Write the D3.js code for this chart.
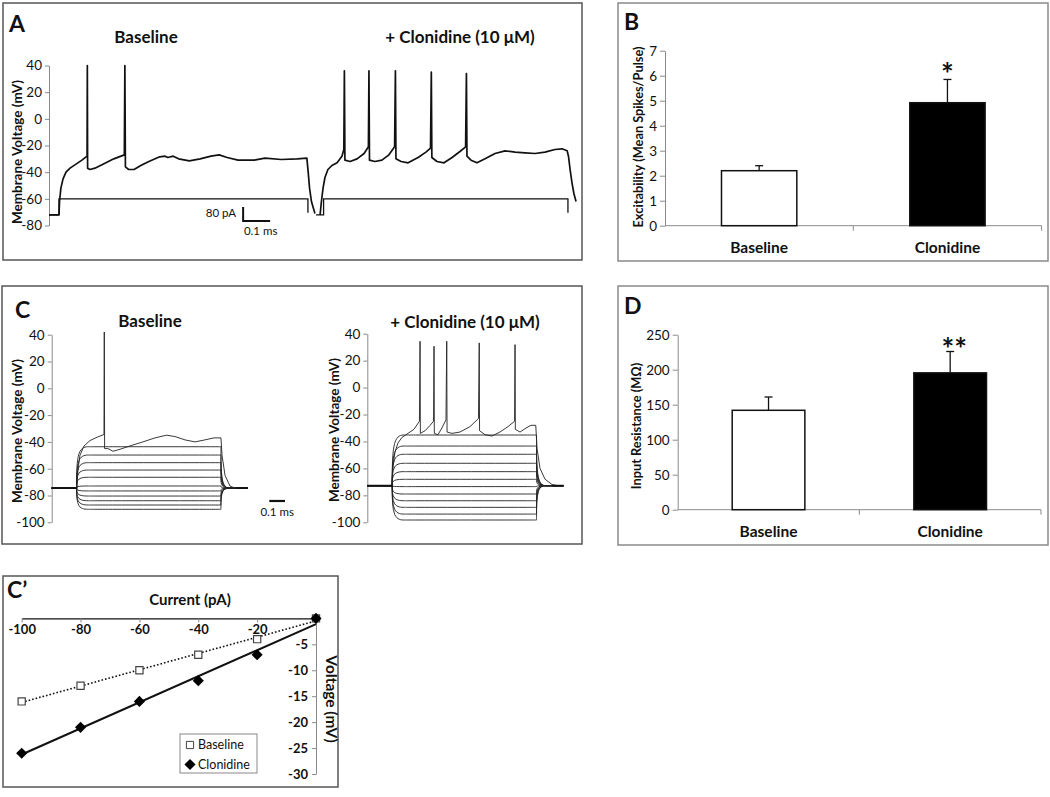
<!DOCTYPE html>
<html><head><meta charset="utf-8">
<script src="https://cdn.jsdelivr.net/npm/d3@7"></script>
<style>
body{margin:0;background:#fff;}
svg text{font-family:Lato,"Open Sans",sans-serif;fill:#111;}
</style></head><body>
<svg id="fig" width="1050" height="797"></svg>
<script>
// ================= DATA =================
// ---- Panel A: current-clamp traces (time in ms, voltage in mV) ----
const aTicks = [40,20,0,-20,-40,-60,-80];
const aBaselineTrace = [
 [0,-72],[0.037,-72],[0.039,-62],[0.044,-52],[0.052,-45],[0.063,-40],[0.078,-37],[0.1,-34],[0.122,-31],[0.141,-28],
 [0.142,40],[0.143,-37],[0.152,-38],[0.17,-37],[0.2,-34],[0.24,-30],[0.279,-27],
 [0.281,40],[0.283,-36],[0.295,-38],[0.315,-38],[0.34,-35],[0.37,-32],[0.41,-28.5],[0.43,-28],[0.44,-29],[0.46,-28],
 [0.48,-30],[0.52,-31.5],[0.56,-30],[0.6,-28],[0.63,-27],[0.66,-29],[0.7,-31],[0.76,-31],[0.8,-29.5],[0.86,-30.5],
 [0.92,-30],[0.955,-29.5],[0.96,-40],[0.965,-52],[0.972,-62],[0.985,-71]
];
const aClonidineTrace = [
 [1.004,-72],[1.009,-62],[1.015,-52],[1.022,-44],[1.033,-38],[1.048,-35],[1.067,-33],[1.085,-28],[1.092,-23],
 [1.094,36],[1.096,-31],[1.115,-32],[1.141,-30],[1.167,-26],[1.183,-21],
 [1.185,36],[1.187,-31],[1.207,-32],[1.233,-31],[1.259,-27],[1.280,-21],
 [1.283,36],[1.285,-30],[1.304,-32],[1.330,-33],[1.367,-29],[1.396,-25],[1.413,-22],
 [1.416,35],[1.418,-29],[1.437,-32],[1.463,-33],[1.493,-29],[1.522,-24.5],[1.543,-21],
 [1.546,34],[1.548,-28],[1.563,-31],[1.585,-33],[1.615,-30],[1.652,-26],[1.689,-24],[1.726,-25],[1.763,-25.5],
 [1.8,-26],[1.837,-25],[1.874,-23],[1.9,-22.5],[1.919,-24],[1.924,-28],[1.93,-38],[1.937,-48],[1.944,-56],[1.952,-62]
];
const aBaselineStep = [[0,-72],[0.037,-72],[0.037,-60],[0.959,-60],[0.959,-70.5]];
const aClonidineStep = [[0.989,-72],[1.017,-72],[1.017,-60],[1.922,-60],[1.922,-70.5]];

// ---- Panel B: excitability ----
const barCategories = ["Baseline","Clonidine"];
const excitabilityMean = [2.2, 4.92];
const excitabilityErr = [0.2, 0.93];
const excitabilityTicks = [0,1,2,3,4,5,6,7];

// ---- Panel C: family of sweeps (steady-state levels, mV) ----
const cTicks = [40,20,0,-20,-40,-60,-80,-100];
const cPulse = [0.159, 1.078];          // step on / off (ms)
const cBaselineRest = -74.5;
const cBaselineLevels = [-90.3,-87.1,-83.9,-80.4,-76.6,-72.9,-66.4,-61,-55.5,-49.8,-43.6];
const cBaselineSpikeTrace = [
 [0,-74.5],[0.159,-74.5],[0.168,-60],[0.18,-50],[0.206,-43],[0.244,-39],[0.289,-36.5],[0.333,-34.5],
 [0.335,42],[0.337,-45],[0.359,-45],[0.39,-47],[0.435,-45.5],[0.499,-43],[0.581,-40],[0.658,-37],[0.731,-35],
 [0.785,-36],[0.849,-38.5],[0.913,-40],[0.976,-38.5],[1.034,-37],[1.078,-37],
 [1.085,-50],[1.104,-65],[1.136,-73],[1.168,-74.5],[1.25,-74.5]
];
const cClonidineRest = -72.8;
const cClonidineLevels = [-98.3,-93.9,-88.9,-84,-79,-73.5,-68.1,-62.4,-56.2,-49.5,-43.4,-35.2];
const cClonidineSpikeTrace = [
 [0,-72.8],[0.155,-72.8],[0.164,-58],[0.176,-48],[0.196,-41],[0.221,-37],[0.259,-34],[0.297,-31],[0.332,-25],
 [0.336,34.4],[0.338,-34],[0.368,-32],[0.4,-28],[0.422,-25],
 [0.425,30.7],[0.427,-34],[0.45,-35],[0.475,-30],[0.501,-24],
 [0.506,34.4],[0.508,-33],[0.539,-34],[0.59,-33],[0.654,-29],[0.708,-23],
 [0.713,33.2],[0.715,-32],[0.75,-35],[0.794,-36],[0.845,-33],[0.896,-29],[0.938,-25],
 [0.941,31.9],[0.943,-31],[0.973,-33],[1.011,-30],[1.043,-28],[1.073,-28],
 [1.081,-45],[1.1,-60],[1.132,-68],[1.177,-72],[1.215,-72.8],[1.25,-72.8]
];

// ---- Panel D: input resistance ----
const resistanceMean = [142, 195.5];
const resistanceErr = [19, 30.5];
const resistanceTicks = [0,50,100,150,200,250];

// ---- Panel C': I-V relation ----
const ivCurrent = [-100,-80,-60,-40,-20,0];
const ivBaseline = [-16,-13,-10,-7,-4,0];
const ivClonidine = [-26,-21,-16,-12,-7,0];
const ivXTicks = [-100,-80,-60,-40,-20];
const ivYTicks = [-5,-10,-15,-20,-25,-30];

// ================= DRAWING =================
const svg = d3.select("#fig");
const AX = "#8a8a8a";
const plain = d => String(d);   // hyphen-minus, integer labels as in the figure

function frame(x0,y0,x1,y1,color){
  svg.append("rect").attr("x",x0).attr("y",y0).attr("width",x1-x0).attr("height",y1-y0)
    .attr("fill","none").attr("stroke",color).attr("stroke-width",1.5);
}
function panelLetter(t,x,y){
  svg.append("text").attr("x",x).attr("y",y).attr("font-size",23).attr("font-weight",700).text(t);
}
function title(t,x,y,size){
  svg.append("text").attr("x",x).attr("y",y).attr("text-anchor","middle")
    .attr("font-size",size||17).attr("font-weight",700).text(t);
}
function vlabel(t,x,y,size,rot){
  svg.append("text").attr("transform",`translate(${x},${y}) rotate(${rot||-90})`)
    .attr("text-anchor","middle").attr("dy","0.35em").attr("font-size",size||13.5)
    .attr("font-weight",700).text(t);
}
function styleAxis(g,fs,bold){
  g.selectAll("path,line").attr("stroke",AX).attr("stroke-width",1);
  g.selectAll("text").attr("font-size",fs).attr("fill","#111")
    .attr("font-family","Lato,'Open Sans',sans-serif").attr("font-weight",bold?700:400);
}

// ---------- Panel A ----------
frame(3,3,582,260,"#555");
panelLetter("A",9,32);
title("Baseline",146,43);
title("+ Clonidine (10 \u03bcM)",460,43);
vlabel("Membrane Voltage (mV)",17,152);
const xA = d3.scaleLinear().domain([0,2]).range([49,589]);
const yA = d3.scaleLinear().domain([40,-80]).range([65.5,225.5]);
const gA = svg.append("g").attr("transform","translate(49,0)")
  .call(d3.axisLeft(yA).tickValues(aTicks).tickFormat(plain).tickSize(4).tickSizeOuter(0).tickPadding(3));
styleAxis(gA,13.5,false);
const lineA = d3.line().x(d=>xA(d[0])).y(d=>yA(d[1]));
[aBaselineStep,aClonidineStep].forEach(s=>svg.append("path").attr("d",lineA(s))
  .attr("fill","none").attr("stroke","#111").attr("stroke-width",1.3));
[aBaselineTrace,aClonidineTrace].forEach(s=>svg.append("path").attr("d",lineA(s))
  .attr("fill","none").attr("stroke","#111").attr("stroke-width",1.7).attr("stroke-linejoin","round"));
// scale bar A (80 pA / 0.1 ms)
{
  const t0=0.719, v0=-76.7, v1=-66.2;
  svg.append("path").attr("d",lineA([[t0,v1],[t0,v0],[t0+0.1,v0]]))
    .attr("fill","none").attr("stroke","#111").attr("stroke-width",2);
  svg.append("text").attr("x",xA(t0)-7).attr("y",yA(v1)+10).attr("text-anchor","end")
    .attr("font-size",11.5).text("80 pA");
  svg.append("text").attr("x",xA(t0+0.065)).attr("y",yA(v0)+14).attr("text-anchor","middle")
    .attr("font-size",11.5).text("0.1 ms");
}

// ---------- Bar panels B & D ----------
function barPanel(o){
  const y = d3.scaleLinear().domain([0,o.max]).range([o.y0,o.y1]);
  const x = d3.scaleBand().domain(barCategories).range([o.x0,o.x1]);
  const g = svg.append("g").attr("transform",`translate(${o.x0},0)`)
    .call(d3.axisLeft(y).tickValues(o.ticks).tickFormat(plain).tickSize(5).tickSizeOuter(0).tickPadding(3));
  styleAxis(g,13.5,false);
  svg.append("line").attr("x1",o.x0).attr("x2",o.x1).attr("y1",o.y0).attr("y2",o.y0).attr("stroke",AX);
  [x(barCategories[1]), o.x1].forEach(b=>svg.append("line").attr("x1",b).attr("x2",b)
     .attr("y1",o.y0).attr("y2",o.y0+5).attr("stroke",AX));
  const bw = x.bandwidth()*0.4;
  barCategories.forEach((c,i)=>{
    const cx = x(c)+x.bandwidth()/2;
    svg.append("line").attr("x1",cx).attr("x2",cx).attr("y1",y(o.mean[i])).attr("y2",y(o.mean[i]+o.err[i]))
      .attr("stroke","#111").attr("stroke-width",1.3);
    svg.append("line").attr("x1",cx-4).attr("x2",cx+4).attr("y1",y(o.mean[i]+o.err[i])).attr("y2",y(o.mean[i]+o.err[i]))
      .attr("stroke","#111").attr("stroke-width",1.3);
    svg.append("rect").attr("x",cx-bw/2).attr("y",y(o.mean[i])).attr("width",bw).attr("height",o.y0-y(o.mean[i]))
      .attr("fill",i===0?"#fff":"#000").attr("stroke","#111").attr("stroke-width",1.5);
    svg.append("text").attr("x",cx).attr("y",o.y0+27).attr("text-anchor","middle")
      .attr("font-size",15.5).attr("font-weight",700).text(c);
  });
  const sx = x(barCategories[1])+x.bandwidth()/2 + (o.starDx||0);
  svg.append("text").attr("x",sx).attr("y",y(o.mean[1]+o.err[1])-o.starGap)
    .attr("text-anchor","middle").attr("font-size",30).attr("font-weight",700).text(o.star);
}
frame(618,3,1048,261,"#8a8a8a");
panelLetter("B",624,30);
barPanel({x0:665,x1:1041.6,y0:225.7,y1:50.7,max:7,ticks:excitabilityTicks,
  mean:excitabilityMean,err:excitabilityErr,star:"*",starGap:-6});
vlabel("Excitability (Mean Spikes/Pulse)",638.5,137,12.8);

frame(618,286,1048,545,"#8a8a8a");
panelLetter("D",624,314);
barPanel({x0:677.7,x1:1041,y0:509.7,y1:334.7,max:250,ticks:resistanceTicks,
  mean:resistanceMean,err:resistanceErr,star:"**",starGap:-8,starDx:4});
vlabel("Input Resistance (M\u03a9)",637,426,12.8);

// ---------- Panel C ----------
frame(2,286,582,544,"#555");
panelLetter("C",15,318);
title("Baseline",150,327);
title("+ Clonidine (10 \u03bcM)",465,328);
function sweepPanel(o){
  const x = d3.scaleLinear().domain([0,1.25]).range([o.xStart,o.xStart+196.25]);
  const y = d3.scaleLinear().domain([40,-100]).range([o.yTop,o.yBot]);
  const g = svg.append("g").attr("transform",`translate(${o.xStart},0)`)
    .call(d3.axisLeft(y).tickValues(cTicks).tickFormat(plain).tickSize(4).tickSizeOuter(0).tickPadding(3));
  styleAxis(g,13.5,false);
  const on=cPulse[0], off=cPulse[1], rest=o.rest;
  const curve = d3.line().x(d=>x(d[0])).y(d=>y(d[1])).curve(d3.curveBasis);
  o.levels.forEach(L=>{
    const pts=[[0,rest],[on,rest],[on,rest],[on,rest],[on,L],[on+0.09,L],[on+0.09,L],
               [off,L],[off,L],[off,L],[off,rest],[off+0.07,rest],[off+0.07,rest],[1.25,rest],[1.25,rest],[1.25,rest]];
    svg.append("path").attr("d",curve(pts)).attr("fill","none").attr("stroke","#222").attr("stroke-width",0.9);
  });
  const lin = d3.line().x(d=>x(d[0])).y(d=>y(d[1]));
  svg.append("path").attr("d",lin(o.spike)).attr("fill","none").attr("stroke","#222").attr("stroke-width",0.9);
  svg.append("path").attr("d",lin([[0,rest],[on,rest]])).attr("stroke","#111").attr("stroke-width",1.8);
  svg.append("path").attr("d",lin([[off+0.1,rest],[1.25,rest]])).attr("stroke","#111").attr("stroke-width",1.8);
  return {x,y};
}
const cl = sweepPanel({xStart:51.7,yTop:334.7,yBot:522.3,rest:cBaselineRest,levels:cBaselineLevels,spike:cBaselineSpikeTrace});
sweepPanel({xStart:367.3,yTop:333.7,yBot:522.3,rest:cClonidineRest,levels:cClonidineLevels,spike:cClonidineSpikeTrace});
vlabel("Membrane Voltage (mV)",17,431);
vlabel("Membrane Voltage (mV)",334,430);
// scale bar C (0.1 ms)
{
  const t0=1.386, v0=-84.1;
  svg.append("line").attr("x1",cl.x(t0)).attr("x2",cl.x(t0+0.1)).attr("y1",cl.y(v0)).attr("y2",cl.y(v0))
    .attr("stroke","#111").attr("stroke-width",2.2);
  svg.append("text").attr("x",cl.x(t0+0.05)).attr("y",cl.y(v0)+15).attr("text-anchor","middle")
    .attr("font-size",11.5).text("0.1 ms");
}

// ---------- Panel C' ----------
frame(3,576,338,787,"#555");
svg.append("text").attr("x",7).attr("y",598).attr("font-size",23).attr("font-weight",700).text("C\u2019");
const xI = d3.scaleLinear().domain([-100,0]).range([21.7,316]);
const yI = d3.scaleLinear().domain([0,-30]).range([618.4,774]);
const gIx = svg.append("g").attr("transform","translate(0,618.4)")
  .call(d3.axisBottom(xI).tickValues(ivXTicks).tickFormat(plain).tickSize(4).tickSizeOuter(0).tickPadding(2));
styleAxis(gIx,13,true);
gIx.select(".domain").attr("stroke","#111").attr("stroke-width",1.2);
const gIy = svg.append("g").attr("transform","translate(316,0)")
  .call(d3.axisLeft(yI).tickValues(ivYTicks).tickFormat(plain).tickSize(4).tickSizeOuter(0).tickPadding(4));
styleAxis(gIy,13,true);
title("Current (pA)",190,605,15);
vlabel("Voltage (mV)",331,699,15.5,90);
function fit(xs,ys){
  const mx=d3.mean(xs), my=d3.mean(ys);
  const b=d3.sum(xs,(v,i)=>(v-mx)*(ys[i]-my))/d3.sum(xs,v=>(v-mx)*(v-mx));
  return [b, my-b*mx];
}
const xr=[ivCurrent[0],ivCurrent[ivCurrent.length-1]];
const fb=fit(ivCurrent,ivBaseline), fc=fit(ivCurrent,ivClonidine);
svg.append("line").attr("x1",xI(xr[0])).attr("x2",xI(xr[1]))
  .attr("y1",yI(fb[0]*xr[0]+fb[1])).attr("y2",yI(fb[0]*xr[1]+fb[1]))
  .attr("stroke","#111").attr("stroke-width",1.6).attr("stroke-dasharray","1.6,2");
svg.append("line").attr("x1",xI(xr[0])).attr("x2",xI(xr[1]))
  .attr("y1",yI(fc[0]*xr[0]+fc[1])).attr("y2",yI(fc[0]*xr[1]+fc[1]))
  .attr("stroke","#111").attr("stroke-width",2);
const sq = d3.symbol().type(d3.symbolSquare).size(52);
const dm = d3.symbol().type(d3.symbolSquare).size(62);
ivCurrent.forEach((c,i)=>{
  svg.append("path").attr("d",sq()).attr("transform",`translate(${xI(c)},${yI(ivBaseline[i])})`)
    .attr("fill","#fff").attr("stroke","#444").attr("stroke-width",1.2);
});
ivCurrent.forEach((c,i)=>{
  svg.append("path").attr("d",dm()).attr("transform",`translate(${xI(c)},${yI(ivClonidine[i])}) rotate(45)`)
    .attr("fill","#000");
});
// legend
svg.append("rect").attr("x",180).attr("y",734).attr("width",77).attr("height",39)
  .attr("fill","#fff").attr("stroke","#888");
svg.append("path").attr("d",sq()).attr("transform","translate(190,745)").attr("fill","#fff").attr("stroke","#444");
svg.append("path").attr("d",dm()).attr("transform","translate(190,764.5) rotate(45)").attr("fill","#000");
svg.append("text").attr("x",198).attr("y",745).attr("dy","0.35em").attr("font-size",12.5).text("Baseline");
svg.append("text").attr("x",198).attr("y",764.5).attr("dy","0.35em").attr("font-size",12.5).text("Clonidine");
</script>
</body></html>
